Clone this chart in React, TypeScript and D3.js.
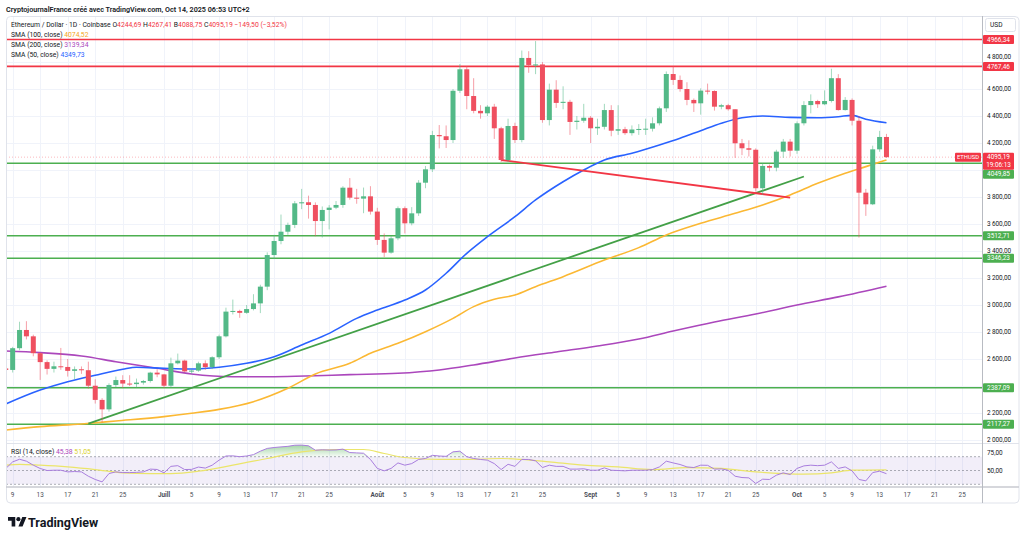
import { useEffect, useRef } from 'react';
import * as d3 from 'd3';

const W = 1024;
const H = 538;

// ETH/USD daily, Coinbase, 8 June -> 14 October 2025 (open = previous close)
const firstDay = '2025-06-08';
const firstOpen = 2530;
const closes = [
  // juin 8-30
  2519, 2680, 2815, 2768, 2643, 2577, 2527, 2546, 2541, 2512, 2524, 2517, 2402, 2297, 2227, 2407, 2444, 2418, 2414, 2425, 2437, 2499, 2486,
  // juillet
  2402, 2568, 2588, 2508, 2514, 2568, 2540, 2613, 2768, 2951, 2956, 2942, 2970, 3012, 3136, 3370, 3474, 3543, 3593, 3753, 3761, 3741, 3622, 3704, 3721, 3741, 3869, 3795, 3788, 3805, 3692,
  // août
  3482, 3388, 3494, 3717, 3605, 3679, 3906, 4005, 4259, 4250, 4222, 4587, 4746, 4548, 4438, 4420, 4469, 4309, 4074, 4326, 4222, 4830, 4778, 4782, 4370, 4595, 4497, 4505, 4356, 4365, 4387,
  // septembre
  4309, 4320, 4444, 4291, 4302, 4273, 4300, 4304, 4306, 4346, 4457, 4711, 4667, 4600, 4519, 4494, 4588, 4585, 4469, 4480, 4450, 4198, 4161, 4150, 3865, 4030, 4017, 4136, 4210, 4143,
  // octobre 1-14
  4346, 4481, 4511, 4487, 4511, 4680, 4444, 4519, 4365, 3832, 3746, 4153, 4244.69, 4095.19,
];
const highs = [
  2545, 2690, 2876, 2880, 2780, 2650, 2590, 2580, 2682, 2600, 2545, 2545, 2580, 2450, 2310, 2420, 2470, 2480, 2480, 2455, 2445, 2505, 2525,
  2490, 2610, 2640, 2595, 2530, 2580, 2590, 2620, 2780, 2980, 3040, 2965, 3000, 3080, 3150, 3390, 3520, 3670, 3610, 3770, 3860, 3810, 3760, 3730, 3740, 3770, 3880, 3940, 3860, 3870, 3880,
  3720, 3530, 3510, 3730, 3730, 3725, 3925, 4030, 4290, 4333, 4330, 4600, 4785, 4770, 4680, 4480, 4480, 4490, 4320, 4380, 4350, 4885, 4880, 4955, 4800, 4640, 4665, 4620, 4520, 4400, 4490,
  4400, 4380, 4490, 4480, 4480, 4320, 4330, 4340, 4380, 4390, 4470, 4730, 4770, 4700, 4650, 4530, 4605, 4640, 4590, 4490, 4490, 4450, 4230, 4220, 4160, 4050, 4040, 4150, 4230, 4230,
  4360, 4510, 4560, 4520, 4590, 4750, 4710, 4540, 4530, 4400, 3860, 4180, 4290, 4267.41,
];
const lows = [
  2495, 2500, 2665, 2745, 2620, 2445, 2485, 2500, 2520, 2470, 2450, 2490, 2380, 2270, 2130, 2210, 2390, 2385, 2400, 2390, 2410, 2425, 2465,
  2385, 2390, 2560, 2500, 2490, 2505, 2520, 2525, 2600, 2760, 2930, 2905, 2935, 2960, 2940, 3110, 3340, 3450, 3520, 3570, 3710, 3640, 3510, 3500, 3560, 3710, 3720, 3780, 3750, 3680, 3670,
  3445, 3355, 3380, 3480, 3530, 3590, 3660, 3865, 3985, 4160, 4163, 4200, 4570, 4450, 4420, 4380, 4400, 4230, 4060, 4060, 4200, 4205, 4720, 4710, 4350, 4330, 4460, 4450, 4260, 4300, 4350,
  4200, 4260, 4300, 4250, 4260, 4260, 4255, 4260, 4260, 4285, 4330, 4430, 4630, 4580, 4480, 4430, 4410, 4560, 4440, 4450, 4440, 4090, 4110, 4100, 3840, 3815, 3990, 3990, 4090, 4100,
  4120, 4330, 4420, 4460, 4480, 4500, 4440, 4440, 4330, 3500, 3660, 3740, 4135, 4088.75,
];

// RSI (14) daily, same days
const rsi = [
  52.9, 62.5, 66.3, 63.5, 57.7, 52.9, 50.0, 50.4, 50.4, 48, 48.5, 48, 41.7, 37, 33.5, 45.6, 48, 47, 47, 47.3, 48, 52, 51.5,
  46.6, 56, 57, 51.4, 51.6, 55, 53.5, 57.7, 65, 71, 71.2, 70, 71, 73, 78, 82, 83.3, 84.2, 85, 86.6, 86.8, 85.8, 79.4, 80, 79.6, 79.8, 81, 76, 75.5, 75, 66,
  53, 49.5, 53, 61, 57.7, 60, 66, 67.4, 72, 71, 70.5, 77, 78, 70, 67.4, 66, 65, 60, 51.4, 59, 56, 66, 66, 64, 54.3, 57.7, 56, 56, 52, 52, 52.5,
  50.4, 50.4, 53.8, 50.4, 50, 49.5, 50.4, 50.4, 50.4, 51.4, 55.2, 63.5, 61, 58.7, 55.2, 54.3, 57.7, 57.5, 52, 52.3, 50.4, 41.7, 39.8, 39.3, 31.2, 37.4, 37, 43.2, 46.6, 44.2,
  53, 56.7, 57.7, 57, 57.7, 62.5, 53, 55.2, 49.5, 37, 35, 47, 49, 45.38,
];
const rsiSma: [string, number][] = [
  ['2025-06-08', 57.7], ['2025-06-10', 59], ['2025-06-13', 57.7], ['2025-06-17', 55.2], ['2025-06-21', 51.4],
  ['2025-06-25', 46.6], ['2025-06-29', 45.6], ['2025-07-02', 45.6], ['2025-07-06', 49], ['2025-07-11', 57.7],
  ['2025-07-16', 67.4], ['2025-07-21', 77], ['2025-07-26', 80.4], ['2025-07-30', 80.4], ['2025-08-02', 74.6],
  ['2025-08-05', 68.8], ['2025-08-10', 66], ['2025-08-14', 66], ['2025-08-19', 67.4], ['2025-08-22', 66],
  ['2025-08-26', 62.5], ['2025-08-31', 57.7], ['2025-09-05', 55.2], ['2025-09-10', 51.4], ['2025-09-15', 54.3],
  ['2025-09-20', 53], ['2025-09-25', 48], ['2025-09-29', 45.6], ['2025-10-02', 44.8], ['2025-10-06', 46.6],
  ['2025-10-09', 50.4], ['2025-10-14', 51.05],
];

// moving averages
const sma50: [string, number][] = [
  ['2025-06-08', 2267], ['2025-06-13', 2370], ['2025-06-17', 2432], ['2025-06-21', 2480], ['2025-06-25', 2524],
  ['2025-06-27', 2539], ['2025-07-01', 2531], ['2025-07-05', 2526], ['2025-07-09', 2539], ['2025-07-13', 2568],
  ['2025-07-17', 2617], ['2025-07-21', 2704], ['2025-07-25', 2790], ['2025-07-29', 2901], ['2025-08-01', 2963],
  ['2025-08-05', 3037], ['2025-08-08', 3111], ['2025-08-11', 3235], ['2025-08-14', 3383], ['2025-08-17', 3506],
  ['2025-08-21', 3654], ['2025-08-24', 3778], ['2025-08-28', 3913], ['2025-08-31', 4000], ['2025-09-03', 4074],
  ['2025-09-07', 4124], ['2025-09-11', 4185], ['2025-09-14', 4235], ['2025-09-17', 4291], ['2025-09-20', 4346],
  ['2025-09-23', 4387], ['2025-09-26', 4400], ['2025-09-30', 4390], ['2025-10-04', 4387], ['2025-10-07', 4395],
  ['2025-10-09', 4405], ['2025-10-11', 4376], ['2025-10-14', 4349.73],
];
const sma100: [string, number][] = [
  ['2025-06-08', 2074], ['2025-06-13', 2099], ['2025-06-19', 2119], ['2025-06-24', 2141], ['2025-07-01', 2173],
  ['2025-07-05', 2198], ['2025-07-09', 2227], ['2025-07-14', 2284], ['2025-07-19', 2383], ['2025-07-23', 2489],
  ['2025-07-28', 2568], ['2025-07-31', 2642], ['2025-08-04', 2716], ['2025-08-08', 2802], ['2025-08-12', 2901],
  ['2025-08-15', 2988], ['2025-08-18', 3042], ['2025-08-21', 3074], ['2025-08-24', 3136], ['2025-08-28', 3210],
  ['2025-09-03', 3333], ['2025-09-08', 3425], ['2025-09-12', 3519], ['2025-09-17', 3605], ['2025-09-22', 3679],
  ['2025-09-26', 3741], ['2025-09-30', 3815], ['2025-10-04', 3901], ['2025-10-08', 3976], ['2025-10-11', 4025],
  ['2025-10-14', 4074.52],
];
const sma200: [string, number][] = [
  ['2025-06-08', 2659], ['2025-06-13', 2647], ['2025-06-19', 2622], ['2025-06-24', 2580], ['2025-06-30', 2531],
  ['2025-07-05', 2489], ['2025-07-11', 2469], ['2025-07-17', 2469], ['2025-07-23', 2476], ['2025-07-28', 2484],
  ['2025-08-04', 2494], ['2025-08-10', 2519], ['2025-08-15', 2556], ['2025-08-21', 2607], ['2025-08-27', 2652],
  ['2025-09-02', 2696], ['2025-09-08', 2748], ['2025-09-13', 2807], ['2025-09-19', 2874], ['2025-09-25', 2933],
  ['2025-10-01', 3000], ['2025-10-07', 3060], ['2025-10-14', 3139.34],
];

// drawn levels and trend lines
const redLevels = [4966.34, 4767.46];
const greenLevels = [4049.85, 3512.71, 3346.23, 2387.09, 2117.27];
const trendUp: [string, number][] = [['2025-06-20', 2122], ['2025-10-02', 3952]];
const trendDown: [string, number][] = [['2025-08-19', 4074], ['2025-09-30', 3795]];

const priceTicks = [2000, 2200, 2600, 2800, 3000, 3200, 3400, 3600, 3800, 4200, 4400, 4600, 4800];
const timeTicks = [
  '2025-06-09', '2025-06-13', '2025-06-17', '2025-06-21', '2025-06-25', '2025-07-01', '2025-07-05', '2025-07-09',
  '2025-07-13', '2025-07-17', '2025-07-21', '2025-07-25', '2025-08-01', '2025-08-05', '2025-08-09', '2025-08-13',
  '2025-08-17', '2025-08-21', '2025-08-25', '2025-09-01', '2025-09-05', '2025-09-09', '2025-09-13', '2025-09-17',
  '2025-09-21', '2025-09-25', '2025-10-01', '2025-10-05', '2025-10-09', '2025-10-13', '2025-10-17', '2025-10-21',
  '2025-10-25',
];
const monthNames = ['Janv', 'Févr', 'Mars', 'Avr', 'Mai', 'Juin', 'Juill', 'Août', 'Sept', 'Oct', 'Nov', 'Déc'];

const lastOHLC = [4244.69, 4267.41, 4088.75, 4095.19];
const change = -149.5;
const changePct = -3.52;
const countdown = '19:06:13';

const UP = '#53b987';
const DOWN = '#ef5060';
const RED = '#f23645';
const GREEN = '#4caf50';
const FONT = 'Roboto, "Liberation Sans", Arial, sans-serif';

const fmt = (v: number) => v.toFixed(2).replace('.', ',');
const fmtSigned = (v: number) => (v < 0 ? '\u2212' : '+') + fmt(Math.abs(v));
const tickFmt = d3.formatLocale({ decimal: ',', thousands: '\u2009', grouping: [3], currency: ['', ''] }).format(',.2f');

const App = () => {
  const svgRef = useRef<SVGSVGElement>(null);

  useEffect(() => {
    const svg = d3.select(svgRef.current);
    svg.selectAll('*').remove();

    const parse = d3.utcParse('%Y-%m-%d');
    const plotL = 6, plotR = 982, top = 16, priceBot = 443, rsiBot = 487, frameB = 503, frameR = 1019;

    const x = d3.scaleUtc()
      .domain([Date.UTC(2025, 5, 7), Date.UTC(2025, 9, 28)])
      .range([-1.1, 982.8]);
    const y = d3.scaleLinear().domain([2000, 4800]).range([440, 62]);
    const yR = d3.scaleLinear().domain([30, 70]).range([484.3, 456.7]);

    const start = parse(firstDay)!.getTime();
    const candles = closes.map((c, i) => ({
      date: new Date(start + i * 864e5),
      open: i === 0 ? firstOpen : closes[i - 1],
      close: c,
      high: highs[i],
      low: lows[i],
      rsi: rsi[i],
    }));

    const defs = svg.append('defs');
    defs.append('clipPath').attr('id', 'clipPrice')
      .append('rect').attr('x', plotL).attr('y', top).attr('width', plotR - plotL).attr('height', priceBot - top);
    defs.append('clipPath').attr('id', 'clipRsi')
      .append('rect').attr('x', plotL).attr('y', priceBot).attr('width', plotR - plotL).attr('height', rsiBot - priceBot);
    const grad = defs.append('linearGradient').attr('id', 'obFill')
      .attr('x1', 0).attr('x2', 0).attr('gradientUnits', 'userSpaceOnUse')
      .attr('y1', 444).attr('y2', yR(70));
    grad.append('stop').attr('offset', 0).attr('stop-color', '#4caf50').attr('stop-opacity', 0.55);
    grad.append('stop').attr('offset', 1).attr('stop-color', '#4caf50').attr('stop-opacity', 0.05);

    svg.append('rect').attr('width', W).attr('height', H).attr('fill', '#fff');

    // title
    svg.append('text')
      .attr('x', 6).attr('y', 12)
      .attr('font-family', FONT).attr('font-size', 7.2).attr('font-weight', 600).attr('fill', '#131722')
      .text('CryptojournalFrance créé avec TradingView.com, Oct 14, 2025 06:53 UTC+2');

    // grid
    const grid = svg.append('g').attr('stroke', '#f0f3fa').attr('stroke-width', 1);
    timeTicks.forEach(t => {
      const xx = Math.round(x(parse(t)!)) + 0.5;
      grid.append('line').attr('x1', xx).attr('x2', xx).attr('y1', top).attr('y2', rsiBot);
    });
    priceTicks.concat([4000, 2400]).forEach(p => {
      const yy = Math.round(y(p)) + 0.5;
      grid.append('line').attr('x1', plotL).attr('x2', plotR).attr('y1', yy).attr('y2', yy);
    });

    // ---- price pane ----
    const price = svg.append('g').attr('clip-path', 'url(#clipPrice)');

    // last price line
    price.append('line')
      .attr('x1', plotL).attr('x2', plotR)
      .attr('y1', y(lastOHLC[3])).attr('y2', y(lastOHLC[3]))
      .attr('stroke', RED).attr('stroke-opacity', 0.35).attr('stroke-dasharray', '1,2');

    redLevels.forEach(l => {
      price.append('line').attr('x1', plotL).attr('x2', plotR).attr('y1', y(l)).attr('y2', y(l))
        .attr('stroke', RED).attr('stroke-width', 1.6);
    });
    greenLevels.forEach(l => {
      price.append('line').attr('x1', plotL).attr('x2', plotR).attr('y1', y(l)).attr('y2', y(l))
        .attr('stroke', GREEN).attr('stroke-width', 1.5);
    });

    const maLine = d3.line<[string, number]>()
      .x(d => x(parse(d[0])!))
      .y(d => y(d[1]))
      .curve(d3.curveMonotoneX);
    price.append('path').attr('d', maLine(sma200)).attr('fill', 'none').attr('stroke', '#ab47bc').attr('stroke-width', 1.6);
    price.append('path').attr('d', maLine(sma100)).attr('fill', 'none').attr('stroke', '#fbb833').attr('stroke-width', 1.6);
    price.append('path').attr('d', maLine(sma50)).attr('fill', 'none').attr('stroke', '#2962ff').attr('stroke-width', 1.6);

    const straight = d3.line<[string, number]>().x(d => x(parse(d[0])!)).y(d => y(d[1]));
    price.append('path').attr('d', straight(trendUp)).attr('stroke', '#43a047').attr('stroke-width', 1.8).attr('fill', 'none');
    price.append('path').attr('d', straight(trendDown)).attr('stroke', RED).attr('stroke-width', 1.8).attr('fill', 'none');

    const cw = 5;
    const cg = price.selectAll('.candle').data(candles).enter().append('g').attr('class', 'candle');
    cg.append('line')
      .attr('x1', d => x(d.date)).attr('x2', d => x(d.date))
      .attr('y1', d => y(d.high)).attr('y2', d => y(d.low))
      .attr('stroke', d => (d.close >= d.open ? UP : DOWN))
      .attr('stroke-opacity', 0.55).attr('stroke-width', 1);
    cg.append('rect')
      .attr('x', d => x(d.date) - cw / 2)
      .attr('width', cw)
      .attr('y', d => y(Math.max(d.open, d.close)))
      .attr('height', d => Math.max(1, Math.abs(y(d.open) - y(d.close))))
      .attr('fill', d => (d.close >= d.open ? UP : DOWN));

    // ---- RSI pane ----
    const rsiG = svg.append('g').attr('clip-path', 'url(#clipRsi)');
    rsiG.append('rect').attr('x', plotL).attr('width', plotR - plotL)
      .attr('y', yR(70)).attr('height', yR(30) - yR(70))
      .attr('fill', '#7e57c2').attr('fill-opacity', 0.1);
    [70, 50, 30].forEach(v => {
      rsiG.append('line').attr('x1', plotL).attr('x2', plotR).attr('y1', yR(v)).attr('y2', yR(v))
        .attr('stroke', '#787b86').attr('stroke-opacity', 0.6).attr('stroke-dasharray', '2,2');
    });
    const ob = d3.area<typeof candles[0]>()
      .x(d => x(d.date)).y0(yR(70)).y1(d => yR(Math.max(70, d.rsi)));
    rsiG.append('path').attr('d', ob(candles)).attr('fill', 'url(#obFill)');
    rsiG.append('path')
      .attr('d', d3.line<[string, number]>().x(d => x(parse(d[0])!)).y(d => yR(d[1])).curve(d3.curveMonotoneX)(rsiSma))
      .attr('fill', 'none').attr('stroke', '#ebe56a').attr('stroke-width', 1.2);
    rsiG.append('path')
      .attr('d', d3.line<typeof candles[0]>().x(d => x(d.date)).y(d => yR(d.rsi))(candles))
      .attr('fill', 'none').attr('stroke', '#a97ede').attr('stroke-width', 1);

    // frame & separators
    svg.append('rect').attr('x', 6.5).attr('y', 16.5).attr('width', frameR - 6.5).attr('height', frameB - 16.5)
      .attr('rx', 4).attr('fill', 'none').attr('stroke', '#e0e3eb');
    svg.append('line').attr('x1', plotL).attr('x2', frameR).attr('y1', priceBot + 0.5).attr('y2', priceBot + 0.5)
      .attr('stroke', '#e0e3eb');
    svg.append('line').attr('x1', plotL).attr('x2', frameR).attr('y1', rsiBot).attr('y2', rsiBot)
      .attr('stroke', '#c8cad0').attr('stroke-width', 1.5);
    svg.append('line').attr('x1', plotR + 0.5).attr('x2', plotR + 0.5).attr('y1', top).attr('y2', frameB)
      .attr('stroke', '#b8bbc2').attr('stroke-width', 1);

    // ---- right axis ----
    const axis = svg.append('g').attr('font-family', FONT).attr('font-size', 6.4).attr('fill', '#131722');
    priceTicks.forEach(p => {
      // the top tick sits just above the 4767 tag
      const yy = p === 4800 ? y(p) - 5 : y(p);
      axis.append('text').attr('x', 987).attr('y', yy).attr('dy', '0.35em').text(tickFmt(p));
    });
    [75, 50].forEach(v => {
      axis.append('text').attr('x', 987).attr('y', yR(v)).attr('dy', '0.35em').text(tickFmt(v));
    });
    svg.append('rect').attr('x', 985.5).attr('y', 18.5).attr('width', 30).attr('height', 13).attr('rx', 2)
      .attr('fill', '#fff').attr('stroke', '#e0e3eb');
    svg.append('text').attr('x', 990).attr('y', 25).attr('dy', '0.35em')
      .attr('font-family', FONT).attr('font-size', 6.6).attr('fill', '#131722').text('USD');

    const tag = (yy: number, color: string, lines: string[]) => {
      const h = 8 * lines.length + 1;
      axis.append('rect').attr('x', 983).attr('y', yy - 4.5).attr('width', 31).attr('height', h)
        .attr('rx', 1).attr('fill', color);
      lines.forEach((t, k) => {
        axis.append('text').attr('x', 998.5).attr('y', yy + k * 8).attr('dy', '0.35em')
          .attr('text-anchor', 'middle').attr('fill', '#fff').text(t);
      });
    };
    redLevels.forEach(l => tag(y(l), RED, [fmt(l)]));
    greenLevels.forEach(l => tag(l === 4049.85 ? y(lastOHLC[3]) + 17 : y(l), GREEN, [fmt(l)]));
    tag(y(lastOHLC[3]), RED, [fmt(lastOHLC[3]), countdown]);
    svg.append('rect').attr('x', 955).attr('y', y(lastOHLC[3]) - 4.5).attr('width', 26).attr('height', 9)
      .attr('rx', 1).attr('fill', RED);
    svg.append('text').attr('x', 968).attr('y', y(lastOHLC[3])).attr('dy', '0.35em').attr('text-anchor', 'middle')
      .attr('font-family', FONT).attr('font-size', 5.8).attr('fill', '#fff').text('ETHUSD');

    // ---- time axis ----
    const tAxis = svg.append('g').attr('font-family', FONT).attr('font-size', 6.4).attr('fill', '#4a4d57')
      .attr('text-anchor', 'middle');
    timeTicks.forEach(t => {
      const d = parse(t)!;
      const first = d.getUTCDate() === 1;
      tAxis.append('text').attr('x', x(d)).attr('y', 494.5).attr('dy', '0.35em')
        .attr('font-weight', first ? 700 : 400)
        .text(first ? monthNames[d.getUTCMonth()] : String(d.getUTCDate()));
    });

    // ---- legends ----
    const leg = svg.append('g').attr('font-family', FONT).attr('font-size', 6.8).attr('fill', '#131722');
    const l1 = leg.append('text').attr('x', 11).attr('y', 25).attr('dy', '0.35em');
    l1.append('tspan').text('Ethereum / Dollar · 1D · Coinbase ');
    ['O', 'H', 'B', 'C'].forEach((k, i) => {
      l1.append('tspan').text((i ? ' ' : '') + k);
      l1.append('tspan').attr('fill', RED).text(fmt(lastOHLC[i]));
    });
    l1.append('tspan').attr('fill', RED).text(` ${fmtSigned(change)} (${fmtSigned(changePct)}%)`);

    const maLegend: [string, number, string][] = [
      ['SMA (100, close)', sma100[sma100.length - 1][1], '#f5a623'],
      ['SMA (200, close)', sma200[sma200.length - 1][1], '#ab47bc'],
      ['SMA (50, close)', sma50[sma50.length - 1][1], '#2962ff'],
    ];
    maLegend.forEach(([name, v, c], i) => {
      const t = leg.append('text').attr('x', 11).attr('y', 35 + i * 10).attr('dy', '0.35em');
      t.append('tspan').text(name + ' ');
      t.append('tspan').attr('fill', c).text(fmt(v));
    });
    const rl = leg.append('text').attr('x', 11).attr('y', 451.5).attr('dy', '0.35em');
    rl.append('tspan').text('RSI (14, close) ');
    rl.append('tspan').attr('fill', '#ab47bc').text(fmt(rsi[rsi.length - 1]) + ' ');
    rl.append('tspan').attr('fill', '#d8cf2a').text(fmt(rsiSma[rsiSma.length - 1][1]));

    // ---- TradingView logo ----
    const logo = svg.append('g').attr('transform', 'translate(8,515) scale(0.52)').attr('fill', '#131722');
    logo.append('path').attr('d', 'M14 22H7V11H0V4h14v18zM28 22h-8l7.5-18h8L28 22z');
    logo.append('circle').attr('cx', 20).attr('cy', 8).attr('r', 4);
    svg.append('text').attr('x', 28).attr('y', 527)
      .attr('font-family', FONT).attr('font-size', 12.5).attr('font-weight', 700).attr('fill', '#131722')
      .text('TradingView');
  }, []);

  return (
    <svg ref={svgRef} width={W} height={H} style={{ position: 'absolute', left: 0, top: 0, display: 'block' }} />
  );
};

export default App;
